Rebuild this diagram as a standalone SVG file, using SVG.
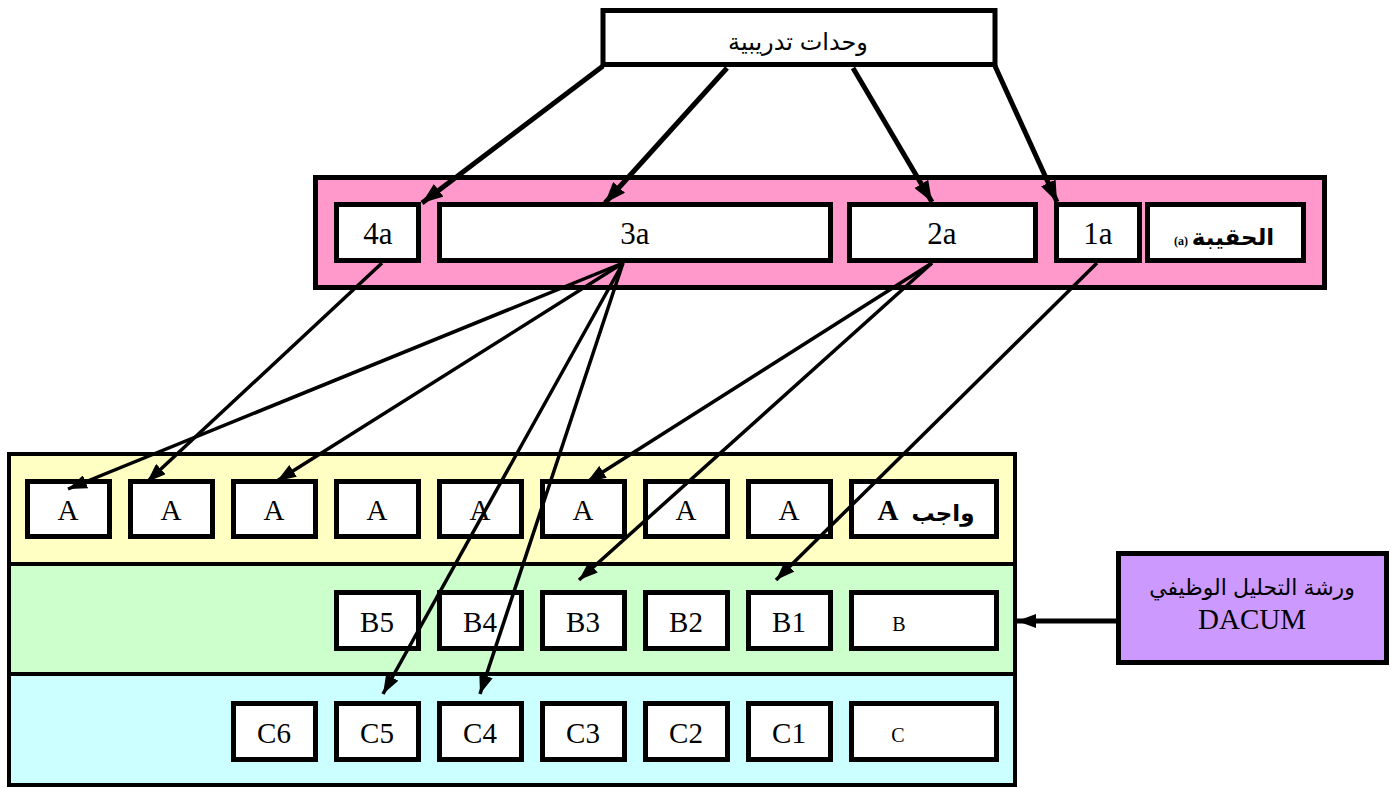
<svg xmlns="http://www.w3.org/2000/svg" width="1396" height="788" viewBox="0 0 1396 788">
<style>
.box{fill:#fff;stroke:#000;stroke-width:5}
.band{stroke:#000;stroke-width:4}
.lat{font-family:"Liberation Serif","Times New Roman",serif;font-size:29px;text-anchor:middle;fill:#000}
.big{font-size:31px}
.sm{font-size:20px}
.tiny{font-size:12px;font-weight:bold}
.ar{font-family:"Liberation Sans","DejaVu Sans",sans-serif;text-anchor:middle;fill:#000}
.c1{fill:none;stroke:#000;stroke-width:5}
.c2{fill:none;stroke:#000;stroke-width:3.5}
</style>
<defs>
<marker id="hb" markerUnits="userSpaceOnUse" markerWidth="22" markerHeight="16" refX="21" refY="8" orient="auto"><path d="M0,0 L21,8 L0,16 z" fill="#000"/></marker>
<marker id="hs" markerUnits="userSpaceOnUse" markerWidth="20" markerHeight="14" refX="19" refY="7" orient="auto"><path d="M0,0 L19,7 L0,14 z" fill="#000"/></marker>
</defs>
<rect width="1396" height="788" fill="#fff"/>

<g id="units">
<rect class="box" x="603" y="10.5" width="392" height="54"/>
<text class="ar" x="798" y="50" style="font-size:24px">وحدات تدريبية</text>
</g>

<g id="bag">
<rect x="315.5" y="177.5" width="1009" height="110" fill="#FF99CC" stroke="#000" stroke-width="5"/>
<g id="n4a"><rect class="box" x="336.5" y="204.5" width="82" height="56"/><text class="lat big" x="378" y="244">4a</text></g>
<g id="n3a"><rect class="box" x="439.5" y="204.5" width="391" height="56"/><text class="lat big" x="635" y="244">3a</text></g>
<g id="n2a"><rect class="box" x="849.5" y="204.5" width="186" height="56"/><text class="lat big" x="942" y="244">2a</text></g>
<g id="n1a"><rect class="box" x="1056.5" y="204.5" width="83" height="56"/><text class="lat big" x="1098" y="244">1a</text></g>
<g id="nbag"><rect class="box" x="1147.5" y="204.5" width="156" height="56"/>
<text class="ar" x="1233" y="245" style="font-size:23px;font-weight:bold">الحقيبة</text>
<text class="lat tiny" x="1181" y="245">(a)</text></g>
</g>

<g id="bands">
<rect class="band" x="9" y="454" width="1006" height="110" fill="#FFFFC4"/>
<rect class="band" x="9" y="564" width="1006" height="110" fill="#CCFFCC"/>
<rect class="band" x="9" y="674" width="1006" height="111" fill="#CCFFFF"/>
</g>

<g id="rowA">
<g id="a8"><rect class="box" x="27.5" y="481.5" width="82" height="55"/><text class="lat" x="68" y="520">A</text></g>
<g id="a7"><rect class="box" x="130.5" y="481.5" width="82" height="55"/><text class="lat" x="171" y="520">A</text></g>
<g id="a6"><rect class="box" x="233.5" y="481.5" width="82" height="55"/><text class="lat" x="274" y="520">A</text></g>
<g id="a5"><rect class="box" x="336.5" y="481.5" width="82" height="55"/><text class="lat" x="377" y="520">A</text></g>
<g id="a4"><rect class="box" x="439.5" y="481.5" width="82" height="55"/><text class="lat" x="480" y="520">A</text></g>
<g id="a3"><rect class="box" x="542.5" y="481.5" width="82" height="55"/><text class="lat" x="583" y="520">A</text></g>
<g id="a2"><rect class="box" x="645.5" y="481.5" width="82" height="55"/><text class="lat" x="686" y="520">A</text></g>
<g id="a1"><rect class="box" x="748.5" y="481.5" width="82" height="55"/><text class="lat" x="789" y="520">A</text></g>
<g id="aT"><rect class="box" x="851.5" y="481.5" width="145" height="55"/>
<text class="lat" x="888" y="520" style="font-weight:bold">A</text>
<text class="ar" x="943" y="521" style="font-size:23px;font-weight:bold">واجب</text></g>
</g>

<g id="rowB">
<g id="b5"><rect class="box" x="336.5" y="592.5" width="82" height="56"/><text class="lat" x="377" y="632">B5</text></g>
<g id="b4"><rect class="box" x="439.5" y="592.5" width="82" height="56"/><text class="lat" x="480" y="632">B4</text></g>
<g id="b3"><rect class="box" x="542.5" y="592.5" width="82" height="56"/><text class="lat" x="583" y="632">B3</text></g>
<g id="b2"><rect class="box" x="645.5" y="592.5" width="82" height="56"/><text class="lat" x="686" y="632">B2</text></g>
<g id="b1"><rect class="box" x="748.5" y="592.5" width="82" height="56"/><text class="lat" x="789" y="632">B1</text></g>
<g id="bT"><rect class="box" x="851.5" y="592.5" width="145" height="56"/><text class="lat sm" x="899" y="631">B</text></g>
</g>

<g id="rowC">
<g id="c6"><rect class="box" x="233.5" y="703.5" width="82" height="56"/><text class="lat" x="274" y="743">C6</text></g>
<g id="c5"><rect class="box" x="336.5" y="703.5" width="82" height="56"/><text class="lat" x="377" y="743">C5</text></g>
<g id="c4"><rect class="box" x="439.5" y="703.5" width="82" height="56"/><text class="lat" x="480" y="743">C4</text></g>
<g id="c3"><rect class="box" x="542.5" y="703.5" width="82" height="56"/><text class="lat" x="583" y="743">C3</text></g>
<g id="c2"><rect class="box" x="645.5" y="703.5" width="82" height="56"/><text class="lat" x="686" y="743">C2</text></g>
<g id="c1"><rect class="box" x="748.5" y="703.5" width="82" height="56"/><text class="lat" x="789" y="743">C1</text></g>
<g id="cT"><rect class="box" x="851.5" y="703.5" width="145" height="56"/><text class="lat sm" x="898" y="742">C</text></g>
</g>

<g id="dacum">
<rect x="1118.5" y="553.5" width="268" height="109" fill="#CC99FF" stroke="#000" stroke-width="5"/>
<text class="ar" x="1252" y="595" style="font-size:22px">ورشة التحليل الوظيفي</text>
<text class="lat" x="1252" y="629" style="font-size:29px">DACUM</text>
</g>

<g id="connectors">
<line class="c1" x1="603" y1="66" x2="422" y2="203" marker-end="url(#hb)"/>
<line class="c1" x1="727" y1="68" x2="605" y2="203" marker-end="url(#hb)"/>
<line class="c1" x1="853" y1="68" x2="932" y2="202" marker-end="url(#hb)"/>
<line class="c1" x1="995" y1="66" x2="1057" y2="202" marker-end="url(#hb)"/>
<line class="c2" x1="382" y1="263" x2="147" y2="482" marker-end="url(#hs)"/>
<line class="c2" x1="623" y1="263" x2="68" y2="489" marker-end="url(#hs)"/>
<line class="c2" x1="623" y1="263" x2="277" y2="481" marker-end="url(#hs)"/>
<line class="c2" x1="623" y1="263" x2="383" y2="694" marker-end="url(#hs)"/>
<line class="c2" x1="623" y1="263" x2="480" y2="694" marker-end="url(#hs)"/>
<line class="c2" x1="932" y1="263" x2="587" y2="482" marker-end="url(#hs)"/>
<line class="c2" x1="932" y1="263" x2="579" y2="580" marker-end="url(#hs)"/>
<line class="c2" x1="1097" y1="263" x2="776" y2="580" marker-end="url(#hs)"/>
<line class="c1" x1="1116" y1="621" x2="1017" y2="621" marker-end="url(#hs)"/>
</g>
</svg>
